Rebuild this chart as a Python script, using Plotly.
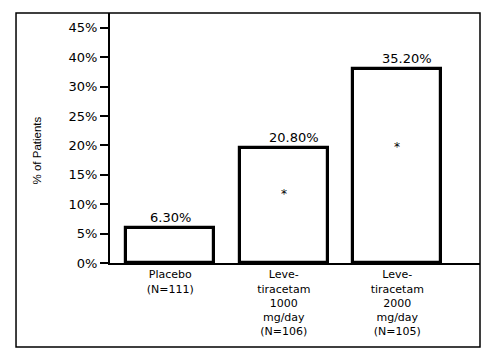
import plotly.graph_objects as go

# ---- data ----
categories = [
    "Placebo<br>(N=111)",
    "Leve-<br>tiracetam<br>1000<br>mg/day<br>(N=106)",
    "Leve-<br>tiracetam<br>2000<br>mg/day<br>(N=105)",
]
values = [6.3, 20.8, 35.2]
value_labels = ["6.30%", "20.80%", "35.20%"]
significance = ["", "*", "*"]
y_tick_labels = ["0%", "5%", "10%", "15%", "20%", "25%", "30%", "40%", "45%"]
y_title = "% of Patients"

# ---- layout constants ----
FONT = "DejaVu Sans"
tick_step = 5.33          # axis units between printed tick marks
y_top = 45.34
label_xshift = [0, 10, 10]
x_idx = list(range(len(categories)))

fig = go.Figure()
fig.add_trace(go.Bar(
    x=x_idx, y=values, width=0.775,
    marker=dict(color="white", line=dict(color="black", width=3.2)),
    hoverinfo="skip",
))

annotations = []
for i, (v, lab) in enumerate(zip(values, value_labels)):
    annotations.append(dict(
        x=i, y=v, xref="x", yref="y", text=lab, showarrow=False,
        yanchor="bottom", xshift=label_xshift[i], yshift=1,
        font=dict(family=FONT, size=13, color="black"),
    ))
    if significance[i]:
        annotations.append(dict(
            x=i, y=v * 0.6, xref="x", yref="y", text=significance[i],
            showarrow=False, yanchor="middle",
            font=dict(family=FONT, size=12, color="black"),
        ))

# rotated y-axis title (placed a little below plot centre, as in the original)
annotations.append(dict(
    x=-0.20, y=0.45, xref="paper", yref="paper", text=y_title,
    textangle=-90, showarrow=False, xanchor="center", yanchor="middle",
    font=dict(family="Liberation Sans", size=11.5, color="black"),
))

fig.update_layout(
    width=497, height=352,
    margin=dict(l=110, r=17, t=13, b=89),
    paper_bgcolor="white", plot_bgcolor="white",
    showlegend=False,
    bargap=0,
    annotations=annotations,
    shapes=[dict(
        type="rect", xref="paper", yref="paper",
        x0=-0.254, x1=1.0, y0=-0.336, y1=1.0,
        line=dict(color="black", width=1.5), fillcolor="rgba(0,0,0,0)",
        layer="below",
    )],
    xaxis=dict(
        range=[-0.531, 2.729], automargin=False,
        tickmode="array", tickvals=x_idx, ticktext=categories,
        showline=True, linecolor="black", linewidth=2,
        ticks="", showgrid=False, zeroline=False,
        tickfont=dict(family=FONT, size=11, color="black"),
    ),
    yaxis=dict(
        range=[0, y_top], automargin=False,
        tickmode="array",
        tickvals=[k * tick_step for k in range(len(y_tick_labels))],
        ticktext=y_tick_labels,
        ticks="outside", ticklen=8, tickwidth=2, tickcolor="black",
        showline=True, linecolor="black", linewidth=2,
        showgrid=False, zeroline=False,
        tickfont=dict(family=FONT, size=13, color="black"),
    ),
)

fig.write_html("out.html")
